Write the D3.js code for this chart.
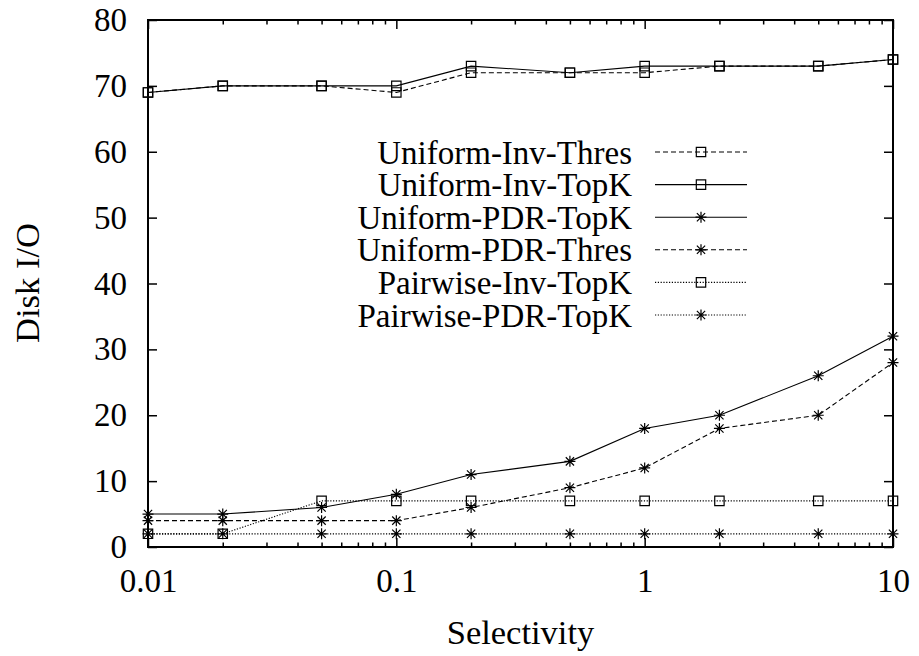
<!DOCTYPE html>
<html>
<head>
<meta charset="utf-8">
<title>Disk I/O vs Selectivity</title>
<script src="https://d3js.org/d3.v7.min.js"></script>
<style>
  body { margin: 0; background: #fff; }
  text { font-family: 'Liberation Serif', 'Times New Roman', serif; fill: #000; }
</style>
</head>
<body>
<div id="my_dataviz"></div>
<script>
// x values (selectivity, log scale)
var selectivity = [0.01, 0.02, 0.05, 0.1, 0.2, 0.5, 1, 2, 5, 10];

// series values
var uniformInvThres  = [69, 70, 70, 69, 72, 72, 72, 73, 73, 74];
var uniformInvTopK   = [69, 70, 70, 70, 73, 72, 73, 73, 73, 74];
var uniformPdrTopK   = [5, 5, 6, 8, 11, 13, 18, 20, 26, 32];
var uniformPdrThres  = [4, 4, 4, 4, 6, 9, 12, 18, 20, 28];
var pairwiseInvTopK  = [2, 2, 7, 7, 7, 7, 7, 7, 7, 7];
var pairwisePdrTopK  = [2, 2, 2, 2, 2, 2, 2, 2, 2, 2];

var seriesNames = ["Uniform-Inv-Thres", "Uniform-Inv-TopK", "Uniform-PDR-TopK",
                   "Uniform-PDR-Thres", "Pairwise-Inv-TopK", "Pairwise-PDR-TopK"];

var yTicks = [0, 10, 20, 30, 40, 50, 60, 70, 80];
var xTicks = [0.01, 0.1, 1, 10];
var xTickLabels = ["0.01", "0.1", "1", "10"];

(function() {
  // style per series: dash pattern and marker
  var series = [
    {name: seriesNames[0], values: uniformInvThres, dash: "5,3", marker: "square"},
    {name: seriesNames[1], values: uniformInvTopK,  dash: null,  marker: "square"},
    {name: seriesNames[2], values: uniformPdrTopK,  dash: null,  marker: "star"},
    {name: seriesNames[3], values: uniformPdrThres, dash: "5,3", marker: "star"},
    {name: seriesNames[4], values: pairwiseInvTopK, dash: "1.2,1.6", marker: "square"},
    {name: seriesNames[5], values: pairwisePdrTopK, dash: "1.2,1.6", marker: "star"}
  ];

  var W = 919, H = 656;
  var m = {left: 148, right: 893, top: 20, bottom: 547};

  var svg = d3.select("#my_dataviz").append("svg")
    .attr("width", W).attr("height", H);

  var x = d3.scaleLog().domain([0.01, 10]).range([m.left, m.right]);
  var y = d3.scaleLinear().domain([0, 80]).range([m.bottom, m.top]);

  // minor ticks for log axis
  var minorTicks = x.ticks().filter(function(d) { return xTicks.indexOf(d) < 0; });

  var fontSize = 33, titleSize = 34.5;

  function tickStyle(g) {
    g.select(".domain").remove();
    g.selectAll("line").attr("stroke", "#000").attr("stroke-width", 1.5);
    g.selectAll("text").style("font-size", fontSize + "px").attr("font-family", null);
  }

  // y axis left
  svg.append("g").attr("transform", "translate(" + m.left + ",0)")
    .call(d3.axisLeft(y).tickValues(yTicks).tickSize(-9).tickPadding(21).tickFormat(d3.format("d")))
    .call(tickStyle);

  // y axis right (mirror ticks)
  svg.append("g").attr("transform", "translate(" + m.right + ",0)")
    .call(d3.axisRight(y).tickValues(yTicks).tickSize(-9).tickFormat(""))
    .call(tickStyle);

  // x axis bottom major
  svg.append("g").attr("transform", "translate(0," + m.bottom + ")")
    .call(d3.axisBottom(x).tickValues(xTicks).tickSize(-9).tickPadding(22)
      .tickFormat(function(d, i) { return xTickLabels[i]; }))
    .call(tickStyle);

  // x axis bottom minor
  svg.append("g").attr("transform", "translate(0," + m.bottom + ")")
    .call(d3.axisBottom(x).tickValues(minorTicks).tickSize(-4.5).tickFormat(""))
    .call(tickStyle);

  // x axis top major + minor
  svg.append("g").attr("transform", "translate(0," + m.top + ")")
    .call(d3.axisTop(x).tickValues(xTicks).tickSize(-9).tickFormat(""))
    .call(tickStyle);
  svg.append("g").attr("transform", "translate(0," + m.top + ")")
    .call(d3.axisTop(x).tickValues(minorTicks).tickSize(-4.5).tickFormat(""))
    .call(tickStyle);

  // plot frame
  svg.append("rect")
    .attr("x", m.left).attr("y", m.top)
    .attr("width", m.right - m.left).attr("height", m.bottom - m.top)
    .attr("fill", "none").attr("stroke", "#000").attr("stroke-width", 2);

  // marker drawing
  var squarePath = d3.symbol().type(d3.symbolSquare).size(88)();
  function starPath(r) {
    var a = r * 0.75;
    return "M" + (-r) + ",0L" + r + ",0M0," + (-r) + "L0," + r +
           "M" + (-a) + "," + (-a) + "L" + a + "," + a +
           "M" + (-a) + "," + a + "L" + a + "," + (-a);
  }
  function drawMarker(g, type, px, py) {
    g.append("path")
      .attr("d", type === "square" ? squarePath : starPath(5.5))
      .attr("transform", "translate(" + px + "," + py + ")")
      .attr("fill", "none").attr("stroke", "#000").attr("stroke-width", 1.2);
  }

  var line = d3.line()
    .x(function(d, i) { return x(selectivity[i]); })
    .y(function(d) { return y(d); });

  series.forEach(function(s) {
    var g = svg.append("g");
    g.append("path")
      .attr("d", line(s.values))
      .attr("fill", "none").attr("stroke", "#000").attr("stroke-width", 1.1)
      .attr("stroke-dasharray", s.dash);
    s.values.forEach(function(v, i) { drawMarker(g, s.marker, x(selectivity[i]), y(v)); });
  });

  // legend
  var legX = 632, legLine0 = 655, legLine1 = 747, legY0 = 152, legStep = 32.6;
  series.forEach(function(s, i) {
    var ly = legY0 + i * legStep;
    var g = svg.append("g");
    g.append("text")
      .attr("x", legX).attr("y", ly + 11.5)
      .attr("text-anchor", "end")
      .style("font-size", fontSize + "px")
      .text(s.name);
    g.append("line")
      .attr("x1", legLine0).attr("x2", legLine1).attr("y1", ly).attr("y2", ly)
      .attr("stroke", "#000").attr("stroke-width", 1.1)
      .attr("stroke-dasharray", s.dash);
    drawMarker(g, s.marker, (legLine0 + legLine1) / 2, ly);
  });

  // axis titles
  svg.append("text")
    .attr("x", (m.left + m.right) / 2).attr("y", 644)
    .attr("text-anchor", "middle")
    .style("font-size", titleSize + "px")
    .text("Selectivity");

  svg.append("text")
    .attr("transform", "translate(39," + 283 + ") rotate(-90)")
    .attr("text-anchor", "middle")
    .style("font-size", titleSize + "px")
    .text("Disk I/O");
})();
</script>
</body>
</html>
